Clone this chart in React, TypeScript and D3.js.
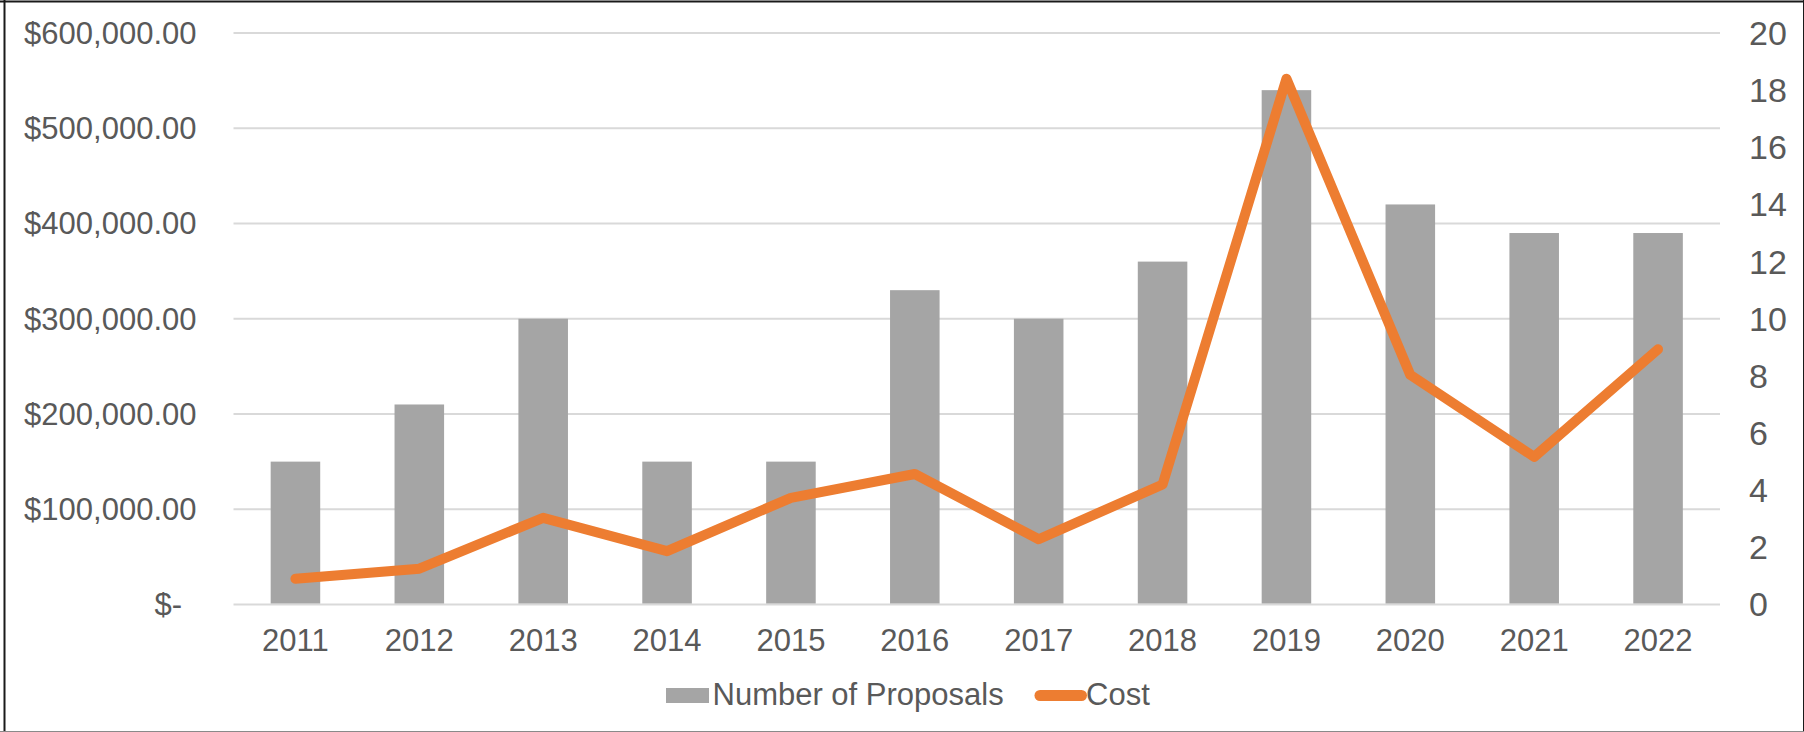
import React from "react";
import * as d3 from "d3";

const years = ["2011","2012","2013","2014","2015","2016","2017","2018","2019","2020","2021","2022"];
const proposals = [5, 7, 10, 5, 5, 11, 10, 12, 18, 14, 13, 13];
const cost = [27000, 37600, 91000, 56000, 112000, 137000, 68500, 126000, 552000, 241000, 155000, 268000];
const leftTicks = [0, 100000, 200000, 300000, 400000, 500000, 600000];
const rightTicks = [0, 2, 4, 6, 8, 10, 12, 14, 16, 18, 20];
const seriesNames = ["Number of Proposals", "Cost"];

const W = 1804;
const H = 732;
const FONT = "'Liberation Sans', Arial, sans-serif";
const TXT = "#595959";
const BAR = "#A5A5A5";
const LINE = "#ED7D31";
const GRID = "#D9D9D9";

export default function App() {
  const plotL = 233.5, plotR = 1720, plotT = 33, plotB = 604.5;
  const x = d3.scaleBand<string>().domain(years).range([plotL, plotR]).paddingInner(0.6).paddingOuter(0.3);
  const yL = d3.scaleLinear().domain([0, 600000]).range([plotB, plotT]);
  const yR = d3.scaleLinear().domain([0, 20]).range([plotB, plotT]);
  const cx = (d: string) => (x(d) as number) + x.bandwidth() / 2;
  const fmt = d3.format("$,.2f");
  const line = d3.line<number>().x((_, i) => cx(years[i])).y((v) => yL(v));

  return (
    <div style={{ position: "fixed", left: 0, top: 0 }}>
      <svg width={W} height={H} style={{ display: "block", background: "#fff" }}>
        <rect x={0} y={0} width={W} height={H} fill="#fff" />
        {/* gridlines */}
        {leftTicks.map((t) => (
          <line key={"g" + t} x1={plotL} x2={plotR} y1={yL(t)} y2={yL(t)} stroke={GRID} strokeWidth={1.8} />
        ))}
        {/* bars */}
        {proposals.map((v, i) => (
          <rect key={"b" + i} x={x(years[i])} y={yR(v)} width={x.bandwidth()} height={yR(0) - yR(v) - 1} fill={BAR} />
        ))}
        {/* line */}
        <path d={line(cost) || ""} fill="none" stroke={LINE} strokeWidth={10} strokeLinecap="round" strokeLinejoin="round" />
        {/* left axis labels */}
        {leftTicks.map((t) => (
          <text key={"l" + t} x={t === 0 ? 182 : 196.5} y={yL(t)} dy="0.35em" textAnchor="end" fontFamily={FONT} fontSize={31} fill={TXT}>
            {t === 0 ? "$-" : fmt(t)}
          </text>
        ))}
        {/* right axis labels */}
        {rightTicks.map((t) => (
          <text key={"r" + t} x={1749} y={yR(t)} dy="0.35em" textAnchor="start" fontFamily={FONT} fontSize={34} fill={TXT}>
            {t}
          </text>
        ))}
        {/* x axis labels */}
        {years.map((yv) => (
          <text key={"x" + yv} x={cx(yv)} y={651} textAnchor="middle" fontFamily={FONT} fontSize={31} fill={TXT}>
            {yv}
          </text>
        ))}
        {/* legend */}
        <rect x={666} y={688} width={43} height={15} fill={BAR} />
        <text x={712.5} y={705} fontFamily={FONT} fontSize={31} fill={TXT}>{seriesNames[0]}</text>
        <line x1={1040} x2={1081.5} y1={695.5} y2={695.5} stroke={LINE} strokeWidth={11} strokeLinecap="round" />
        <text x={1086} y={705} fontFamily={FONT} fontSize={31} fill={TXT}>{seriesNames[1]}</text>
        {/* frame */}
        <line x1={0} x2={W} y1={1.5} y2={1.5} stroke="#1a1a1a" strokeWidth={2} />
        <line x1={4.5} x2={4.5} y1={0} y2={H} stroke="#1a1a1a" strokeWidth={2} />
        <line x1={1803.5} x2={1803.5} y1={0} y2={H} stroke="#1a1a1a" strokeWidth={1} />
        <line x1={0} x2={W} y1={731.5} y2={731.5} stroke="#8a8a8a" strokeWidth={1} />
      </svg>
    </div>
  );
}
